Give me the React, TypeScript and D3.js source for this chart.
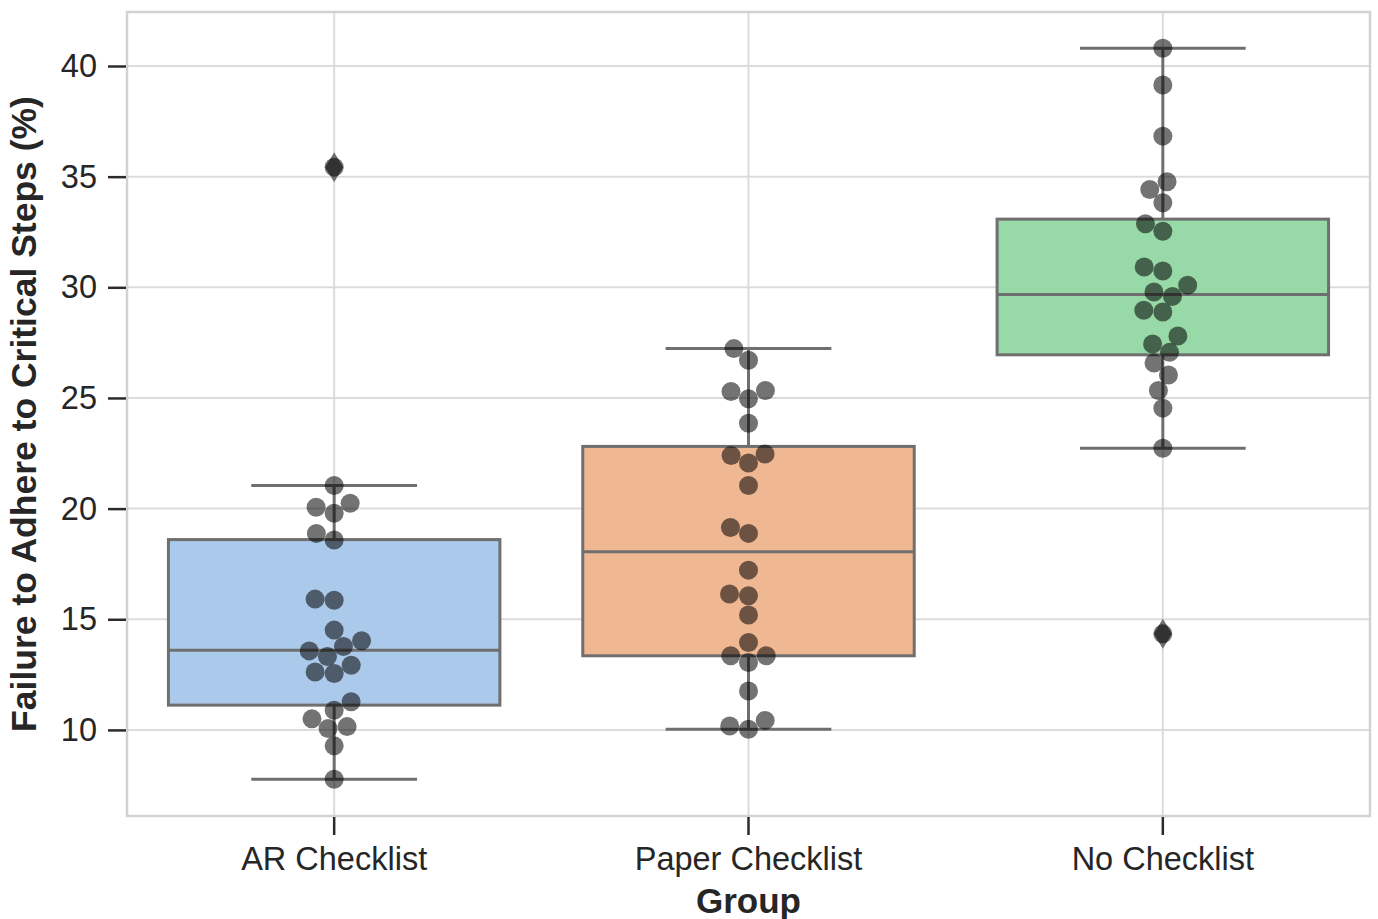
import React, { useEffect, useRef } from 'react';
import * as d3 from 'd3';

const groups = ['AR Checklist', 'Paper Checklist', 'No Checklist'];

// observed values per group (percent)
const arValues = [
  35.43, 21.04, 20.06, 20.24, 19.79, 18.88, 18.58, 15.91, 15.86, 14.51, 14.03, 13.77,
  13.57, 13.32, 12.92, 12.62, 12.55, 11.27, 10.89, 10.5, 10.06, 10.15, 9.28, 7.77,
];
const paperValues = [
  27.23, 26.7, 25.29, 25.34, 24.96, 23.86, 22.4, 22.47, 22.06, 21.04, 19.15, 18.88,
  17.22, 16.14, 16.06, 15.19, 13.95, 13.35, 13.35, 13.05, 11.76, 10.43, 10.18, 10.03,
];
const noValues = [
  40.8, 39.14, 36.83, 34.77, 34.42, 33.82, 32.87, 32.53, 30.92, 30.74, 30.09, 29.79,
  29.59, 28.96, 28.88, 27.8, 27.44, 27.06, 26.58, 26.04, 25.34, 24.54, 22.73, 14.34,
];

const q1 = [11.12, 13.35, 26.95];
const medians = [13.6, 18.05, 29.67];
const q3 = [18.6, 22.81, 33.08];
const whiskerLow = [7.77, 10.03, 22.73];
const whiskerHigh = [21.04, 27.23, 40.8];
const outliers = [[35.43], [], [14.34]];

const yTicks = [10, 15, 20, 25, 30, 35, 40];
const yDomain = [6.11, 42.44];

const fills = ['#abc9ea', '#efb792', '#98daa7'];
const lineGray = '#6f6f6f';
const font = '"Liberation Sans", Arial, sans-serif';

const W = 1378;
const H = 919;
const margin = { top: 12, right: 8, bottom: 104, left: 127 };

// seaborn-style beeswarm, in pixel space
function swarm(values: number[], cx: number, y: (v: number) => number, r: number) {
  const pts = values.map(v => ({ v, y: y(v) })).sort((a, b) => a.v - b.v);
  const placed: { x: number; y: number }[] = [];
  const d2 = (2 * r) * (2 * r);
  for (const p of pts) {
    const neighbors: { x: number; y: number }[] = [];
    for (let j = placed.length - 1; j >= 0; j--) {
      if (placed[j].y - p.y < 2 * r) neighbors.push(placed[j]);
      else break;
    }
    let cands = [cx];
    let leftFirst = true;
    for (const n of neighbors) {
      const dy = n.y - p.y;
      const dx = Math.sqrt(Math.max(d2 - dy * dy, 0)) * 1.05;
      if (leftFirst) cands.push(n.x - dx, n.x + dx);
      else cands.push(n.x + dx, n.x - dx);
      leftFirst = !leftFirst;
    }
    cands = cands
      .map((c, i) => ({ c, i }))
      .sort((a, b) => Math.abs(a.c - cx) - Math.abs(b.c - cx) || a.i - b.i)
      .map(d => d.c);
    let chosen = cands[0];
    for (const c of cands) {
      const ok = neighbors.every(n => (n.x - c) ** 2 + (n.y - p.y) ** 2 >= d2 - 1e-6);
      if (ok) { chosen = c; break; }
    }
    placed.push({ x: chosen, y: p.y });
  }
  return placed;
}

const App = () => {
  const svgRef = useRef<SVGSVGElement>(null);

  useEffect(() => {
    const svg = d3.select(svgRef.current);
    svg.selectAll('*').remove();

    const x0 = margin.left;
    const x1 = W - margin.right;
    const y0 = margin.top;
    const y1 = H - margin.bottom + 1;

    const x = d3.scaleBand().domain(groups).range([x0, x1]).padding(0);
    const y = d3.scaleLinear().domain(yDomain).range([y1, y0]);
    const center = (g: string) => (x(g) as number) + x.bandwidth() / 2;
    const boxW = x.bandwidth() * 0.8;

    svg.append('rect').attr('width', W).attr('height', H).attr('fill', '#fff');

    // grid
    const grid = svg.append('g').attr('stroke', '#dcdcdc').attr('stroke-width', 2);
    grid.selectAll('line.h').data(yTicks).join('line')
      .attr('x1', x0).attr('x2', x1).attr('y1', d => y(d)).attr('y2', d => y(d));
    grid.selectAll('line.v').data(groups).join('line')
      .attr('x1', d => center(d)).attr('x2', d => center(d)).attr('y1', y0).attr('y2', y1);

    // frame
    svg.append('rect')
      .attr('x', x0).attr('y', y0).attr('width', x1 - x0).attr('height', y1 - y0)
      .attr('fill', 'none').attr('stroke', '#d2d2d2').attr('stroke-width', 2.5);

    // axes
    const yAxis = svg.append('g')
      .attr('transform', `translate(${x0 - 1},0)`)
      .call(d3.axisLeft(y).tickValues(yTicks).tickSize(18).tickPadding(11).tickFormat(d3.format('d')));
    const xAxis = svg.append('g')
      .attr('transform', `translate(0,${y1 + 1})`)
      .call(d3.axisBottom(x).tickSize(18).tickPadding(12));
    [yAxis, xAxis].forEach(a => {
      a.select('.domain').remove();
      a.selectAll('.tick line').attr('stroke', '#2b2b2b').attr('stroke-width', 2.5);
      a.selectAll('.tick text')
        .attr('fill', '#262626')
        .style('font-family', font)
        .style('font-size', '32.5px');
    });
    xAxis.selectAll('.tick text').attr('dy', '0.71em');

    // boxes
    const stats = groups.map((g, i) => ({
      g, i, q1: q1[i], med: medians[i], q3: q3[i], lo: whiskerLow[i], hi: whiskerHigh[i],
    }));
    const boxes = svg.append('g').attr('stroke', lineGray).attr('stroke-width', 3);
    stats.forEach(s => {
      const cx = center(s.g);
      boxes.append('line').attr('x1', cx).attr('x2', cx).attr('y1', y(s.q3)).attr('y2', y(s.hi));
      boxes.append('line').attr('x1', cx).attr('x2', cx).attr('y1', y(s.q1)).attr('y2', y(s.lo));
      boxes.append('line').attr('x1', cx - boxW / 4).attr('x2', cx + boxW / 4).attr('y1', y(s.hi)).attr('y2', y(s.hi));
      boxes.append('line').attr('x1', cx - boxW / 4).attr('x2', cx + boxW / 4).attr('y1', y(s.lo)).attr('y2', y(s.lo));
      boxes.append('rect')
        .attr('x', cx - boxW / 2).attr('width', boxW)
        .attr('y', y(s.q3)).attr('height', y(s.q1) - y(s.q3))
        .attr('fill', fills[s.i]);
      boxes.append('line').attr('x1', cx - boxW / 2).attr('x2', cx + boxW / 2).attr('y1', y(s.med)).attr('y2', y(s.med));
      outliers[s.i].forEach(v => {
        boxes.append('path')
          .attr('d', `M${cx},${y(v) - 15}L${cx + 9},${y(v)}L${cx},${y(v) + 15}L${cx - 9},${y(v)}Z`)
          .attr('fill', lineGray).attr('stroke', 'none');
      });
    });

    // swarm points
    const series = [arValues, paperValues, noValues];
    const dots = svg.append('g').attr('fill', '#000').attr('fill-opacity', 0.55);
    series.forEach((vals, i) => {
      const pts = swarm(vals, center(groups[i]), y, 9.1);
      dots.selectAll(null).data(pts).join('circle')
        .attr('cx', d => d.x).attr('cy', d => d.y).attr('r', 9.5);
    });

    // axis titles
    svg.append('text')
      .attr('x', center(groups[1])).attr('y', 913)
      .attr('text-anchor', 'middle')
      .attr('fill', '#262626')
      .style('font-family', font)
      .style('font-size', '35px').style('font-weight', 'bold')
      .text('Group');
    svg.append('text')
      .attr('transform', `translate(36,${(y0 + y1) / 2}) rotate(-90)`)
      .attr('text-anchor', 'middle')
      .attr('fill', '#262626')
      .style('font-family', font)
      .style('font-size', '35.5px').style('font-weight', 'bold')
      .text('Failure to Adhere to Critical Steps (%)');
  }, []);

  return (
    <div style={{ position: 'absolute', left: 0, top: 0 }}>
      <svg ref={svgRef} width={W} height={H} style={{ display: 'block' }}></svg>
    </div>
  );
};

export default App;
